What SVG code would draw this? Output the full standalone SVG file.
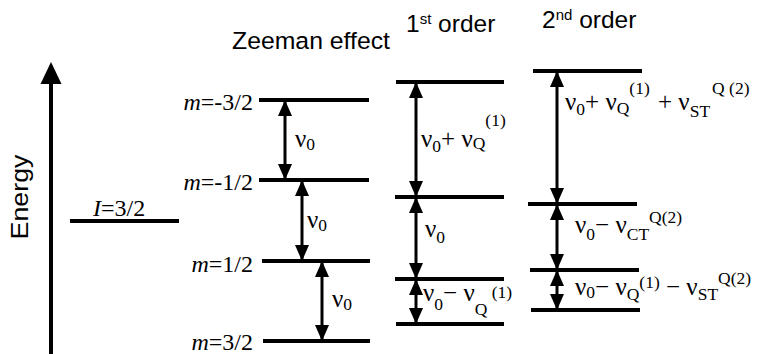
<svg xmlns="http://www.w3.org/2000/svg" width="758" height="354" viewBox="0 0 758 354">
<style>
.lvl{stroke:#000;stroke-width:4;fill:none}
.arr{stroke:#000;stroke-width:3;fill:none;marker-start:url(#ah);marker-end:url(#ah)}
.sans{font-family:"Liberation Sans",Arial,sans-serif;font-size:24.5px;fill:#000}
.serif{font-family:"Liberation Serif","Times New Roman",serif;font-size:24px;fill:#000}
.nu{font-family:"Liberation Serif","Times New Roman",serif;font-size:25px;fill:#000}
.s{font-size:17.5px}
.sup{font-size:15px}
</style>
<defs>
<marker id="ah" markerUnits="userSpaceOnUse" markerWidth="16" markerHeight="14" refX="16" refY="7" orient="auto-start-reverse">
<path d="M0,0 L16,7 L0,14 z" fill="#000"/>
</marker>
</defs>
<rect width="758" height="354" fill="#fff"/>

<g id="energy-axis">
<line x1="51" y1="354" x2="51" y2="82" stroke="#000" stroke-width="4"/>
<polygon points="40.5,84 51,62 61.5,84" fill="#000"/>
<text class="sans" font-size="25" transform="translate(28,197) rotate(-90)" text-anchor="middle" textLength="85" lengthAdjust="spacingAndGlyphs">Energy</text>
</g>

<g id="headers">
<text class="sans" x="232" y="49" textLength="158" lengthAdjust="spacingAndGlyphs">Zeeman effect</text>
<text class="sans" x="406" y="32">1<tspan class="sup" dy="-8">st</tspan><tspan dy="8"> order</tspan></text>
<text class="sans" x="542" y="28">2<tspan class="sup" dy="-8">nd</tspan><tspan dy="8"> order</tspan></text>
</g>

<g id="level-I">
<line class="lvl" x1="70" y1="221" x2="179" y2="221"/>
<text class="serif" x="93" y="216"><tspan font-style="italic">I</tspan>=3/2</text>
</g>

<g id="zeeman-m-3-2">
<line class="lvl" x1="259" y1="100" x2="369" y2="100"/>
<text class="serif" x="253" y="110" text-anchor="end"><tspan font-style="italic">m</tspan>=-3/2</text>
</g>
<g id="zeeman-m-1-2">
<line class="lvl" x1="259" y1="180" x2="369" y2="180"/>
<text class="serif" x="253" y="190" text-anchor="end"><tspan font-style="italic">m</tspan>=-1/2</text>
</g>
<g id="zeeman-m1-2">
<line class="lvl" x1="262" y1="261" x2="370" y2="261"/>
<text class="serif" x="253" y="272" text-anchor="end"><tspan font-style="italic">m</tspan>=1/2</text>
</g>
<g id="zeeman-m3-2">
<line class="lvl" x1="263" y1="341" x2="370" y2="341"/>
<text class="serif" x="253" y="350" text-anchor="end"><tspan font-style="italic">m</tspan>=3/2</text>
</g>

<g id="first-order-levels">
<line class="lvl" x1="396" y1="82" x2="504" y2="82"/>
<line class="lvl" x1="395" y1="197" x2="504" y2="197"/>
<line class="lvl" x1="395" y1="279" x2="504" y2="279"/>
<line class="lvl" x1="396" y1="324" x2="504" y2="324"/>
</g>

<g id="second-order-levels">
<line class="lvl" x1="533" y1="71" x2="642" y2="71"/>
<line class="lvl" x1="528" y1="204" x2="637" y2="204"/>
<line class="lvl" x1="530" y1="270" x2="639" y2="270"/>
<line class="lvl" x1="531" y1="310" x2="640" y2="310"/>
</g>

<g id="connectors">
<line class="arr" x1="285" y1="100" x2="285" y2="180"/>
<line class="arr" x1="302" y1="180" x2="302" y2="261"/>
<line class="arr" x1="322" y1="261" x2="322" y2="341"/>
<line class="arr" x1="416" y1="82" x2="416" y2="197"/>
<line class="arr" x1="416" y1="197" x2="416" y2="279"/>
<line class="arr" x1="416" y1="279" x2="416" y2="324"/>
<line class="arr" x1="557" y1="71" x2="557" y2="204"/>
<line class="arr" x1="557" y1="204" x2="557" y2="270"/>
<line class="arr" x1="557" y1="270" x2="557" y2="310"/>
</g>

<g id="transition-labels" class="nu">
<text x="295" y="147">ν<tspan class="s" y="150">0</tspan></text>
<text x="307" y="228">ν<tspan class="s" y="231">0</tspan></text>
<text x="332" y="307">ν<tspan class="s" y="310">0</tspan></text>

<text x="421" y="147">ν<tspan class="s" y="152">0</tspan><tspan y="147">+ ν</tspan><tspan class="s" y="149">Q</tspan><tspan class="s" y="126">(1)</tspan></text>
<text x="425" y="237">ν<tspan class="s" y="243">0</tspan></text>
<text x="423" y="301">ν<tspan class="s" y="310">0</tspan><tspan y="301">− ν</tspan><tspan class="s" y="315">Q</tspan><tspan class="s" y="298"> (1)</tspan></text>

<text x="565" y="110">ν<tspan class="s" y="115">0</tspan><tspan y="110">+ ν</tspan><tspan class="s" y="114">Q</tspan><tspan class="s" y="94">(1)</tspan><tspan y="110" dx="2"> + ν</tspan><tspan class="s" y="117">ST</tspan><tspan class="s" y="94" dx="2">Q (2)</tspan></text>
<text x="575" y="233">ν<tspan class="s" y="240">0</tspan><tspan y="233">− ν</tspan><tspan class="s" y="240">CT</tspan><tspan class="s" y="223">Q(2)</tspan></text>
<text x="575" y="295">ν<tspan class="s" y="298">0</tspan><tspan y="295">− ν</tspan><tspan class="s" y="300">Q</tspan><tspan class="s" y="288">(1)</tspan><tspan y="295"> − ν</tspan><tspan class="s" y="300">ST</tspan><tspan class="s" y="284">Q(2)</tspan></text>
</g>
</svg>
